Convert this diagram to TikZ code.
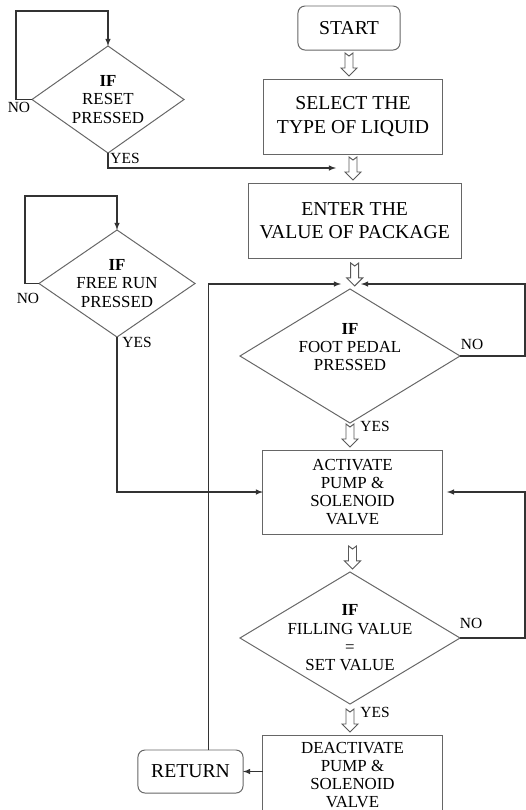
\documentclass[tikz,border=0pt]{standalone}
\usepackage{fontspec}
\setmainfont{Liberation Serif}
\usepackage{tikz}
\usetikzlibrary{positioning,shapes,calc}
\usetikzlibrary{arrows}

\tikzset{
  startstop/.style={draw=black!60, line width=0.7pt, rounded corners=5pt, font=\fontsize{14}{16.5}\selectfont, align=center, inner sep=0pt, outer sep=0pt},
  process/.style={draw=black!60, line width=0.7pt, font=\fontsize{14}{16.5}\selectfont, align=center, inner sep=0pt, outer sep=0pt},
  action/.style={process, font=\fontsize{12}{13}\selectfont},
  decision/.style={draw=black!60, line width=0.7pt, diamond, font=\fontsize{12}{13}\selectfont, align=center, inner sep=-12pt, outer sep=0pt},
  flow/.style={draw=black!80, line width=0.75pt, -latex},
  answer/.style={font=\fontsize{11}{12}\selectfont, inner sep=0pt},
  hollow/.style={draw=black!65, fill=white, line width=0.7pt, line join=miter}
}

% hollow block arrow from one node down to the next
\newcommand{\blockarrow}[2]{%
  \draw[hollow] ($(#2.north -| #1.south)+(0,-3)$) -- ++(8,-8) -- ++(-4,0) -- ++(0,-15)
    -- ++(-4,3) -- ++(-4,-3) -- ++(0,15) -- ++(-4,0) -- cycle;
}

\begin{document}
\begin{tikzpicture}[x=0.025cm, y=-0.025cm]
  \useasboundingbox[fill=white] (0,0) rectangle (526,810);

  % main column
  \node[startstop, minimum width=2.55cm, minimum height=1.1cm] (start) at (349,28) {START};
  \node[process, minimum width=4.45cm, minimum height=1.875cm] (select) at (353,116.5) {SELECT THE\\TYPE OF LIQUID};
  \node[process, minimum width=5.325cm, minimum height=1.875cm] (enter) at (354.7,220.5) {ENTER THE\\VALUE OF PACKAGE};
  \node[decision, minimum width=5.5cm, minimum height=3.35cm] (foot) at (350,356) {\textbf{IF}\\FOOT PEDAL\\PRESSED\\\mbox{}};
  \node[action, minimum width=4.475cm, minimum height=2.1cm] (activate) at (352.5,492) {ACTIVATE\\PUMP \&\\SOLENOID\\VALVE};
  \node[decision, minimum width=5.5cm, minimum height=3.3cm] (fill) at (350,638) {\textbf{IF}\\FILLING VALUE\\=\\SET VALUE};
  \node[action, minimum width=4.475cm, minimum height=2.0cm] (deact) at (352.5,775) {DEACTIVATE\\PUMP \&\\SOLENOID\\VALVE};
  \node[startstop, minimum width=2.625cm, minimum height=1.075cm] (return) at (190.5,771.5) {RETURN};

  % side checks
  \node[decision, minimum width=3.8cm, minimum height=2.675cm] (reset) at (108,99.5) {\textbf{IF}\\RESET\\PRESSED};
  \node[decision, minimum width=3.9cm, minimum height=2.675cm] (free) at (117,283.5) {\textbf{IF}\\FREE RUN\\PRESSED};

  % labels
  \node[answer] (resetno) at (19,107) {NO};
  \node[answer] (resetyes) at (125,158) {YES};
  \node[answer] (freeno) at (28,298) {NO};
  \node[answer] (freeyes) at (137,342) {YES};
  \node[answer] (footno) at (472,344) {NO};
  \node[answer] (footyes) at (375,426) {YES};
  \node[answer] (fillno) at (471,623) {NO};
  \node[answer] (fillyes) at (375,712) {YES};

  \coordinate (join) at (336,168);
  \coordinate (loopl) at (341,284);
  \coordinate (loopr) at (361,284);
  \coordinate (rail) at (525,284);

  \blockarrow{start}{select}
  \blockarrow{select}{enter}
  \blockarrow{enter}{foot}
  \blockarrow{foot}{activate}
  \blockarrow{activate}{fill}
  \blockarrow{fill}{deact}

  \draw[flow] (reset.west) -- ++(-16,0) |- ($(reset.north)+(0,-35)$) -- (reset.north);
  \draw[flow] (reset.south) |- (join);
  \draw[flow] (free.west) -- ++(-14,0) |- ($(free.north)+(0,-34)$) -- (free.north);
  \draw[flow] (free.south) |- (activate.west);
  \draw[flow] (foot.east) -| (rail) -- (loopr);
  \draw[flow, shorten >=3.5pt] (fill.east) -| (rail |- activate.east) -- (activate.east);
  \draw[flow] (return.east -| deact.west) -- (return.east);
  \draw[flow] ($(return.north)+(18,0)$) |- (loopl);
\end{tikzpicture}
\end{document}
